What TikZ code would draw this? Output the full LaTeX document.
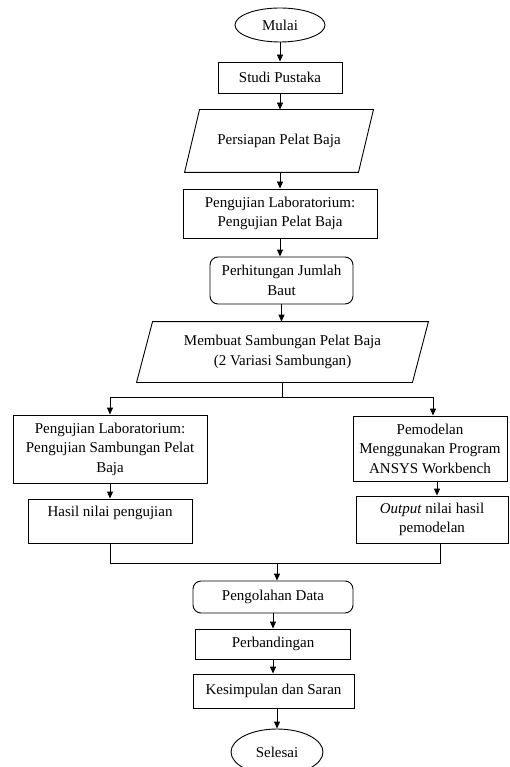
\documentclass[tikz,border=0pt]{standalone}
\usepackage{fontspec}
\setmainfont{Liberation Serif}
\usetikzlibrary{arrows.meta,shapes.geometric}
\tikzset{
  base/.style={font=\fontsize{15}{19.5}\selectfont, align=center, inner sep=0pt, line width=0.9pt},
  box/.style={base, draw, rectangle},
  rbox/.style={base, draw, rectangle, rounded corners=8pt},
  term/.style={base, draw, ellipse},
  iobody/.style={base, rectangle},
  conn/.style={line width=0.9pt},
  arr/.style={line width=0.9pt, -{Triangle[length=7pt,width=6pt]}}
}
\begin{document}
\begin{tikzpicture}[x=1pt,y=-1pt]
\useasboundingbox (0,0) rectangle (509,767);
% nodes
\node[term, minimum width=90pt, minimum height=34pt] (mulai) at (280,25) {Mulai};
\node[box, minimum width=124pt, minimum height=31pt] (studi) at (280,77.5) {Studi Pustaka};
\node[iobody, minimum width=173pt, minimum height=62pt] (persiapan) at (279,141) {Persiapan Pelat Baja};
\draw[conn] ([xshift=7.5pt]persiapan.north west) -- ([xshift=7.5pt]persiapan.north east)
  -- ([xshift=-7.5pt]persiapan.south east) -- ([xshift=-7.5pt]persiapan.south west) -- cycle;
\node[box, minimum width=194pt, minimum height=49pt] (lab1) at (280,213.5) {Pengujian Laboratorium:\\Pengujian Pelat Baja};
\node[rbox, minimum width=143pt, minimum height=47pt] (hitung) at (281.5,280.5) {Perhitungan Jumlah\\Baut};
\node[iobody, minimum width=275pt, minimum height=60pt] (membuat) at (282.5,352) {Membuat Sambungan Pelat Baja\\(2 Variasi Sambungan)};
\draw[conn] ([xshift=8pt]membuat.north west) -- ([xshift=8pt]membuat.north east)
  -- ([xshift=-8pt]membuat.south east) -- ([xshift=-8pt]membuat.south west) -- cycle;
\node[box, minimum width=194pt, minimum height=68pt] (lab2) at (110,449) {Pengujian Laboratorium:\\Pengujian Sambungan Pelat\\Baja};
\node[box, minimum width=154pt, minimum height=65pt] (model) at (430,448.5) {Pemodelan\\Menggunakan Program\\ANSYS Workbench};
\node[box, minimum width=164pt, minimum height=44pt] (hasil) at (110,521) {Hasil nilai pengujian\\~};
\node[box, minimum width=152pt, minimum height=47pt] (output) at (432,519.5) {\textit{Output} nilai hasil\\pemodelan};
\node[rbox, minimum width=160pt, minimum height=32pt] (olah) at (273,597) {Pengolahan Data};
\node[box, minimum width=155pt, minimum height=30pt] (banding) at (273,644) {Perbandingan};
\node[box, minimum width=161pt, minimum height=34pt] (simpul) at (273.5,691) {Kesimpulan dan Saran};
\node[term, minimum width=92pt, minimum height=46pt] (selesai) at (277,752) {Selesai};
\coordinate (split) at (282,397);
\coordinate (join) at (277,563);
% connectors
\draw[arr] (mulai.south) -- (studi.north);
\draw[arr] (studi.south) -- (studi.south |- persiapan.north);
\draw[arr] (persiapan.south -| studi.south) -- (studi.south |- lab1.north);
\draw[arr] (lab1.south) -- (lab1.south |- hitung.north);
\draw[arr] (hitung.south) -- (hitung.south |- membuat.north);
\draw[conn] (split |- membuat.south) -- (split);
\draw[arr] (split) -| (lab2.north);
\draw[arr] (split) -| ([xshift=3pt]model.north);
\draw[arr] (lab2.south) -- (hasil.north);
\draw[arr] ([xshift=7pt]model.south) -- ([xshift=7pt]model.south |- output.north);
\draw[conn] (hasil.south) |- (join);
\draw[conn] ([xshift=8pt]output.south) |- (join);
\draw[arr] (join) -- (join |- olah.north);
\draw[arr] (olah.south) -- (olah.south |- banding.north);
\draw[arr] (banding.south) -- (banding.south |- simpul.north);
\draw[arr] (simpul.south -| selesai.north) -- (selesai.north);
\end{tikzpicture}
\end{document}
